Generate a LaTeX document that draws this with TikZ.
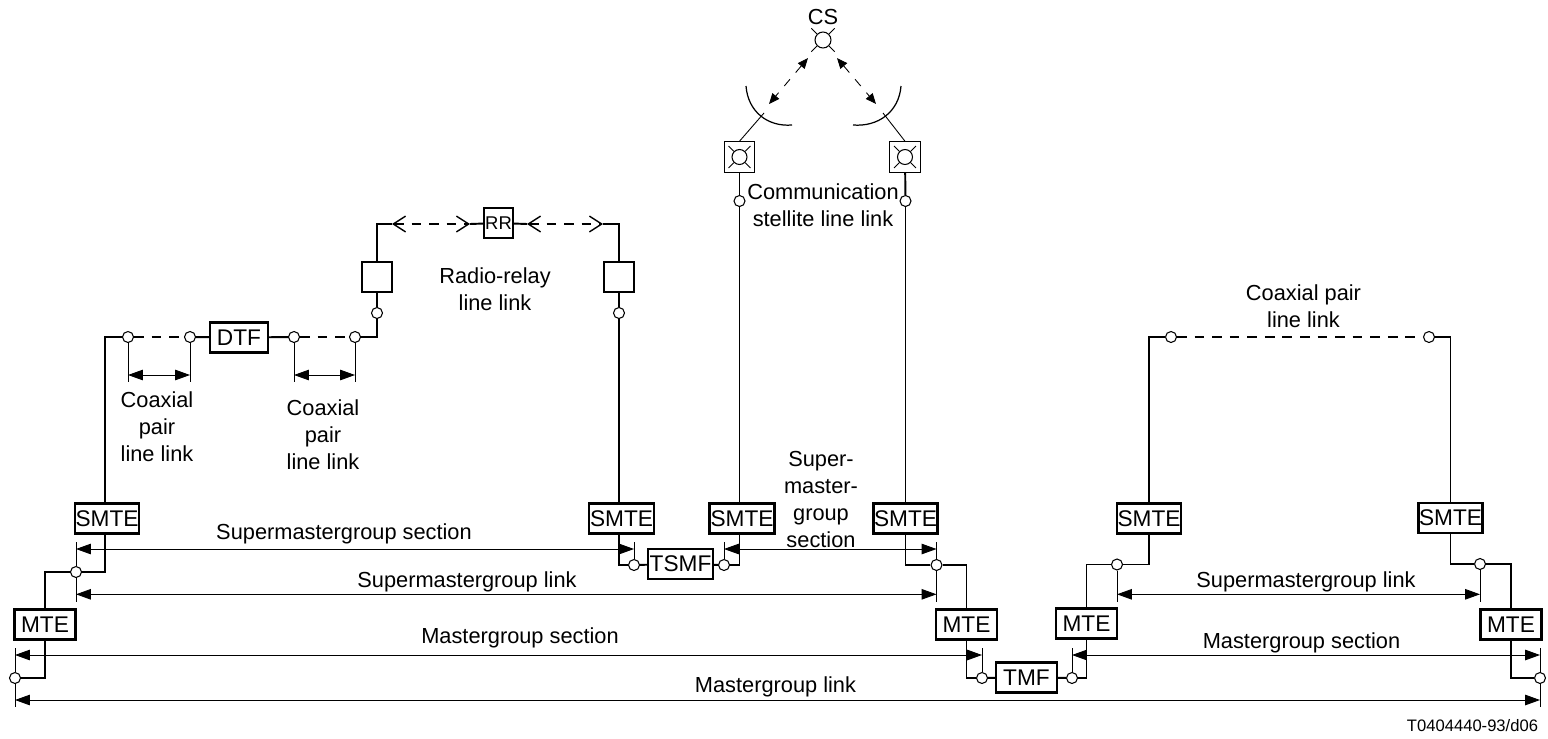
\documentclass[tikz,border=0pt]{standalone}
\usepackage{fontspec}
\setmainfont{Liberation Sans}
\usetikzlibrary{calc,arrows.meta}
\tikzset{>={Triangle[length=8.5pt,width=6pt]}}
\tikzset{
  wire/.style={line width=1.1pt},
  dim/.style={line width=0.5pt},
  box/.style={draw,line width=1.3pt,inner sep=0pt,minimum height=0.6cm,font=\fontsize{12.9}{15}\selectfont},
  junct/.style={circle,draw,fill=white,line width=0.6pt,inner sep=0pt,minimum size=0.22cm},
  lab/.style={align=center,inner sep=0pt,font=\fontsize{12.4}{15.4}\selectfont},
  relay/.style={dashed,dash pattern=on 5.5pt off 4.5pt,line width=0.8pt,{Straight Barb[length=7pt,width=9pt]}-{Straight Barb[length=7pt,width=9pt]}},
  beam/.style={dim,dash pattern=on 5pt off 5pt,{Triangle[length=6pt,width=5pt]}-{Triangle[length=6pt,width=5pt]}}
}

\begin{document}
\begin{tikzpicture}[x=0.02cm,y=-0.02cm]
      \useasboundingbox (0,0) rectangle (1548,738);

      % rows of the measuring arrows
      \coordinate (ySecTop) at (0,542);
      \coordinate (ySec) at (0,549);
      \coordinate (yLink) at (0,594.3);
      \coordinate (yLinkEnd) at (0,602);
      \coordinate (yMsecTop) at (0,648);
      \coordinate (yMsec) at (0,655);
      \coordinate (yMlink) at (0,700);
      \coordinate (yMlinkEnd) at (0,707);
      \coordinate (yCoax) at (0,375);
      \coordinate (yCoaxEnd) at (0,382);

      % terminals
      \node[box,minimum width=1.28cm] at (107,518.5) (smteA) {SMTE};
      \node[box,minimum width=1.3cm] at (621.5,518.5) (smteB) {SMTE};
      \node[box,minimum width=1.3cm] at (742,518.5) (smteC) {SMTE};
      \node[box,minimum width=1.28cm] at (905.5,518.5) (smteD) {SMTE};
      \node[box,minimum width=1.28cm] at (1149,518.5) (smteE) {SMTE};
      \node[box,minimum width=1.28cm] at (1450.5,518) (smteF) {SMTE};
      \node[box,minimum width=1.22cm] at (45,624.5) (mteA) {MTE};
      \node[box,minimum width=1.22cm] at (966.5,624.5) (mteB) {MTE};
      \node[box,minimum width=1.22cm] at (1086.5,623.5) (mteC) {MTE};
      \node[box,minimum width=1.22cm] at (1511,624.5) (mteD) {MTE};
      \node[box,minimum width=1.3cm] at (680.5,564) (tsmf) {TSMF};
      \node[box,minimum width=1.22cm] at (1026.5,677.5) (tmf) {TMF};
      \node[box,minimum width=1.16cm] at (239,337.5) (dtf) {DTF};
      \node[box,minimum width=0.58cm,minimum height=0.6cm,font=\fontsize{10.5}{12}\selectfont] at (498.5,223) (rr) {RR};
      \node[box,minimum width=0.6cm] at (377,277) (radA) {};
      \node[box,minimum width=0.6cm] at (619,277) (radB) {};

      % junctions
      \node[junct] at (76,572) (jA) {};
      \node[junct] at (15,678) (jB) {};
      \node[junct] at (128,337) (jC) {};
      \node[junct] at (190,337) (jD) {};
      \node[junct] at (294,337) (jE) {};
      \node[junct] at (355,337) (jF) {};
      \node[junct] at (377,313) (jG) {};
      \node[junct] at (619,313) (jH) {};
      \node[junct] at (1171,337) (jI) {};
      \node[junct] at (1429,337) (jJ) {};
      \node[junct] at (739.5,201) (jK) {};
      \node[junct] at (905.5,201) (jU) {};
      \node[junct] at (634,565) (jL) {};
      \node[junct] at (724,565) (jM) {};
      \node[junct] at (936.5,565) (jN) {};
      \node[junct] at (982,678) (jO) {};
      \node[junct] at (1072,678) (jP) {};
      \node[junct] at (1117,564.5) (jQ) {};
      \node[junct] at (1480,564) (jR) {};
      \node[junct] at (1540,678) (jS) {};

      % left part of the route
      \coordinate (cA) at (105,337);
      \draw[wire] (jC) -- (cA) -- (cA |- smteA.north);
      \draw[wire] (cA |- smteA.south) |- (jA);
      \draw[wire] (jA) -| (mteA.north);
      \draw[wire] (mteA.south) |- (jB);
      \draw[wire,dashed,dash pattern=on 5.5pt off 4.5pt] (jC) -- (jD);
      \draw[wire] (jD) -- (dtf);
      \draw[wire] (dtf) -- (jE);
      \draw[wire,dashed,dash pattern=on 5.5pt off 4.5pt] (jE) -- (jF);
      \draw[wire] (jF) -| (jG);
      \draw[wire] (jG) -- (radA);

      % radio-relay
      \coordinate (rA) at (392,224);
      \coordinate (rB) at (470,224);
      \coordinate (rC) at (527,224);
      \coordinate (rD) at (603,224);
      \draw[wire] (radA.north) |- (rA);
      \draw[relay] (rA) -- (rB);
      \draw[wire] (rB) -- (rr);
      \draw[wire] (rr) -- (rC);
      \draw[relay] (rC) -- (rD);
      \draw[wire] (rD) -| (radB.north);
      \draw[wire] (radB) -- (jH);
      \draw[wire] (jH) -- (jH |- smteB.north);
      \draw[wire] (jH |- smteB.south) |- (jL);
      \draw[wire] (jL) -- (tsmf);
      \draw[wire] (tsmf) -- (jM);
      \draw[wire] (jM) -| (jK |- smteC.south);

      % satellite
      \node[lab] at (823,17) (csLab) {CS};
      \node[circle,draw,line width=0.6pt,inner sep=0pt,minimum size=0.32cm] at (823,40) (cs) {};
      \node[draw,line width=0.6pt,minimum size=0.61cm,inner sep=0pt] at (739.5,157) (satA) {};
      \node[draw,line width=0.6pt,minimum size=0.61cm,inner sep=0pt] at (905,157) (satB) {};
      \node[circle,draw,line width=0.6pt,inner sep=0pt,minimum size=0.3cm] at (satA) (eyeA) {};
      \node[circle,draw,line width=0.6pt,inner sep=0pt,minimum size=0.3cm] at (satB) (eyeB) {};
      \foreach \a in {45,135,225,315} {
        \draw[dim] (cs.\a) -- ++(\a:0.16cm);
        \draw[dim] (eyeA.\a) -- ++(\a:0.15cm);
        \draw[dim] (eyeB.\a) -- ++(\a:0.15cm);
      }
      \coordinate (dishA) at (764,113);
      \coordinate (dishB) at (883,113);
      \coordinate (beamA) at (769,104);
      \coordinate (beamB) at (876,104);
      \coordinate (beamC) at (808,58);
      \coordinate (beamD) at (837,58);
      \draw[line width=0.7pt] (746,86) .. controls (748,112) and (768,127) .. (792,125);
      \draw[line width=0.7pt] (901,86) .. controls (899,112) and (878,127) .. (853,125);
      \draw[dim] (dishA) -- (satA.north);
      \draw[dim] (dishB) -- (satB.north);
      \draw[beam] (beamC) -- (beamA);
      \draw[beam] (beamD) -- (beamB);
      \draw[wire] (satA) -- (jK);
      \draw[wire] (satB) -- (jU);
      \draw[wire] (jK) -- (jK |- smteC.north);
      \draw[wire] (jU) -- (jU |- smteD.north);
      \draw[wire] (smteD.south) |- (jN);
      \draw[wire] (jN) -| (mteB.north);
      \draw[wire] (mteB.south) |- (jO);
      \draw[wire] (jO) -- (tmf);
      \draw[wire] (tmf) -- (jP);

      % right part of the route
      \draw[wire] (jP) -| (mteC.south);
      \draw[wire] (mteC.north) |- (jQ);
      \draw[wire] (jQ) -| (smteE.south);
      \draw[wire] (jI) -| (smteE.north);
      \draw[wire,dashed,dash pattern=on 5.5pt off 4.5pt] (jI) -- (jJ);
      \draw[wire] (jJ) -| (smteF.north);
      \draw[wire] (smteF.south) |- (jR);
      \draw[wire] (jR) -| (mteD.north);
      \draw[wire] (mteD.south) |- (jS);

      % ticks above and below the junctions
      \foreach \j in {jA,jL,jM,jN} \draw[dim] (\j.north) -- (\j |- ySecTop);
      \foreach \j in {jB,jO,jP,jS} \draw[dim] (\j.north) -- (\j |- yMsecTop);
      \foreach \j in {jA,jN,jQ,jR} \draw[dim] (\j.south) -- (\j |- yLinkEnd);
      \foreach \j in {jB,jS} \draw[dim] (\j.south) -- (\j |- yMlinkEnd);
      \foreach \j in {jC,jD,jE,jF} \draw[dim] (\j.south) -- (\j |- yCoaxEnd);

      % measuring arrows
      \draw[dim,<->] (jC |- yCoax) -- (jD |- yCoax);
      \draw[dim,<->] (jE |- yCoax) -- (jF |- yCoax);
      \draw[dim,<->] (jA |- ySec) -- (jL |- ySec);
      \draw[dim,<->] (jM |- ySec) -- (jN |- ySec);
      \draw[dim,<->] (jA |- yLink) -- (jN |- yLink);
      \draw[dim,<->] (jQ |- yLink) -- (jR |- yLink);
      \draw[dim,<->] (jB |- yMsec) -- (jO |- yMsec);
      \draw[dim,<->] (jP |- yMsec) -- (jS |- yMsec);
      \draw[dim,<->] (jB |- yMlink) -- (jS |- yMlink);

      % labels
      \node[lab] at (823,205) (satLab) {Communication\\stellite line link};
      \node[lab] at (495,289.5) (radLab) {Radio-relay\\line link};
      \node[lab] at (157,426.5) (coaxA) {Coaxial\\pair\\line link};
      \node[lab] at (323,434.5) (coaxB) {Coaxial\\pair\\line link};
      \node[lab] at (1303.5,306) (coaxC) {Coaxial pair\\line link};
      \node[lab] at (821,499.5) (superLab) {Super-\\master-\\group\\section};
      \node[lab] at (344,534) (secLab) {Supermastergroup section};
      \node[lab] at (467,582) (linkLab) {Supermastergroup link};
      \node[lab] at (1306,582) (linkLabB) {Supermastergroup link};
      \node[lab] at (520,638) (msecLab) {Mastergroup section};
      \node[lab] at (1301.5,642.5) (msecLabB) {Mastergroup section};
      \node[lab] at (775.5,686.5) (mlinkLab) {Mastergroup link};
      \node[inner sep=0pt,font=\fontsize{9.45}{11}\selectfont] at (1472.5,726) (refLab) {T0404440-93/d06};

\end{tikzpicture}
\end{document}
